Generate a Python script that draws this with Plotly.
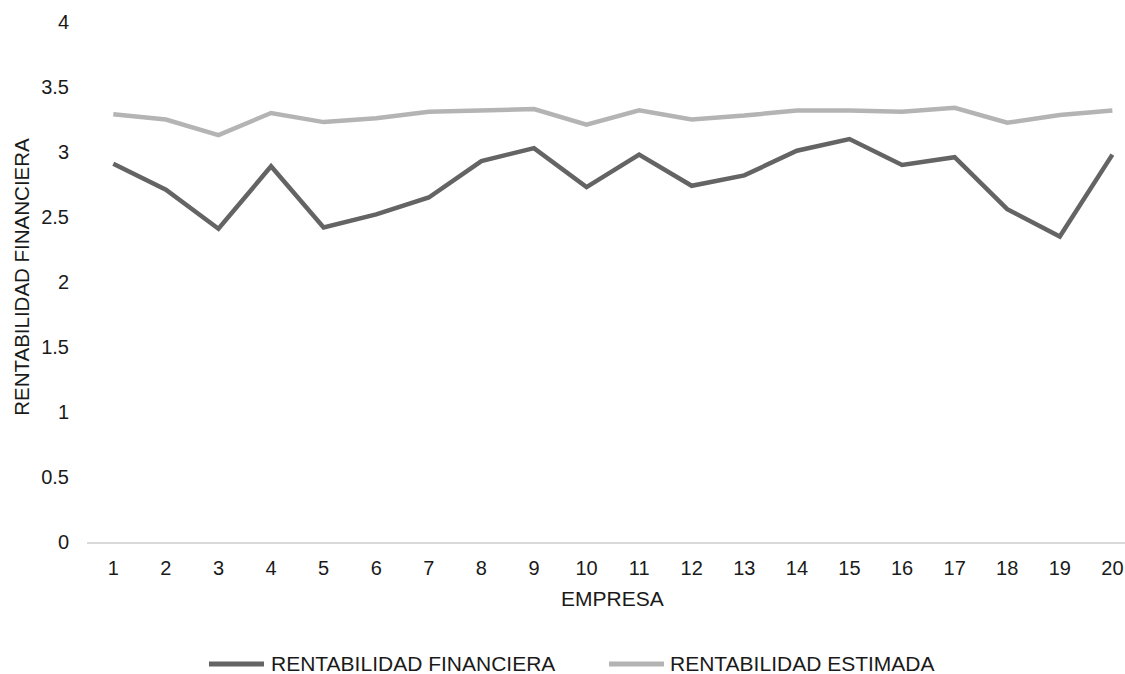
import plotly.graph_objects as go

# Company index on the x axis and the two profitability series
empresas = list(range(1, 21))
rentabilidad_financiera = [2.91, 2.71, 2.41, 2.89, 2.42, 2.52, 2.65, 2.93, 3.03, 2.73,
                           2.98, 2.74, 2.82, 3.01, 3.10, 2.90, 2.96, 2.56, 2.35, 2.98]
rentabilidad_estimada = [3.29, 3.25, 3.13, 3.30, 3.23, 3.26, 3.31, 3.32, 3.33, 3.21,
                         3.32, 3.25, 3.28, 3.32, 3.32, 3.31, 3.34, 3.225, 3.285, 3.32]
y_ticks = [0, 0.5, 1, 1.5, 2, 2.5, 3, 3.5, 4]

nombre_fin = "RENTABILIDAD FINANCIERA"
nombre_est = "RENTABILIDAD ESTIMADA"
color_fin = "#646464"
color_est = "#b4b4b4"
FONT = "Liberation Sans, Arial, sans-serif"
TEXT = "#1a1a1a"

fig = go.Figure()
fig.add_trace(go.Scatter(x=empresas, y=rentabilidad_financiera, mode="lines",
                         name=nombre_fin, line=dict(color=color_fin, width=4.5)))
fig.add_trace(go.Scatter(x=empresas, y=rentabilidad_estimada, mode="lines",
                         name=nombre_est, line=dict(color=color_est, width=4.5)))

fig.update_layout(
    width=1125, height=674,
    margin=dict(l=87, r=0, t=22, b=132),
    paper_bgcolor="white", plot_bgcolor="white",
    showlegend=False,
    font=dict(family=FONT, size=20, color=TEXT),
)
fig.update_xaxes(
    range=[0.5, 20.24], tickmode="array", tickvals=empresas,
    ticktext=[str(e) for e in empresas],
    showgrid=False, zeroline=False, showline=True,
    linecolor="#d9d9d9", linewidth=1.5, ticks="",
    ticklabelstandoff=7,
    tickfont=dict(family=FONT, size=20, color=TEXT),
)
fig.update_yaxes(
    range=[0, 4], tickmode="array", tickvals=y_ticks,
    ticktext=[f"{v:g}" for v in y_ticks],
    showgrid=False, zeroline=False, showline=False, ticks="",
    ticklabelstandoff=17,
    tickfont=dict(family=FONT, size=20, color=TEXT),
)

# Axis titles
fig.add_annotation(text="EMPRESA", xref="paper", yref="paper", x=0.5058, y=-0.108,
                   xanchor="center", yanchor="middle", showarrow=False,
                   font=dict(family=FONT, size=21, color=TEXT))
fig.add_annotation(text="RENTABILIDAD FINANCIERA", xref="paper", yref="paper",
                   x=-0.0626, y=0.51, textangle=-90, xanchor="center", yanchor="middle",
                   showarrow=False, font=dict(family=FONT, size=20.5, color=TEXT))

# Legend drawn below the axis: a line sample followed by its label
legend_y = -0.2346
for x0, x1, xt, color, name in [
    (0.1175, 0.1705, 0.1753, color_fin, nombre_fin),
    (0.5029, 0.5559, 0.5597, color_est, nombre_est),
]:
    fig.add_shape(type="line", xref="paper", yref="paper", x0=x0, x1=x1,
                  y0=legend_y, y1=legend_y, line=dict(color=color, width=5))
    fig.add_annotation(text=name, xref="paper", yref="paper", x=xt, y=legend_y,
                       xanchor="left", yanchor="middle", showarrow=False,
                       font=dict(family=FONT, size=21, color=TEXT))

fig.write_html("out.html")
